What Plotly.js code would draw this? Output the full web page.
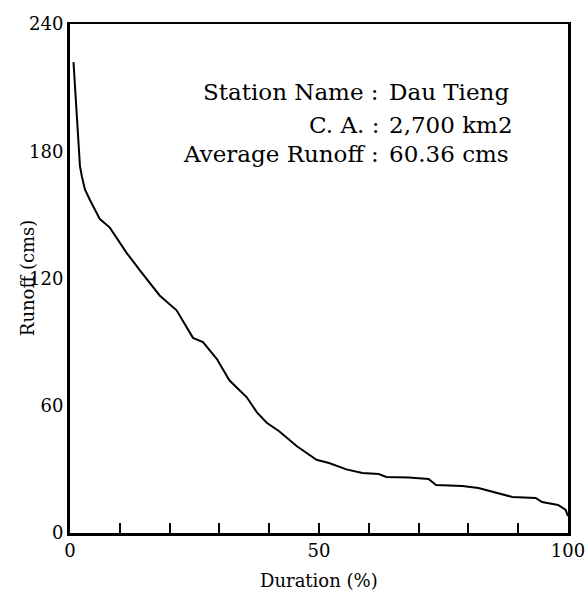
<!DOCTYPE html>
<html>
<head>
<meta charset="utf-8">
<script src="https://cdn.plot.ly/plotly-3.0.1.min.js"></script>
<style>html,body{margin:0;padding:0;background:#fff;}#chart{width:587px;height:596px;}</style>
</head>
<body>
<div id="chart"></div>
<script>
// Flow duration curve, Dau Tieng station
const duration = [0.7, 1.0, 1.4, 1.8, 2.0, 2.4, 3.0, 4.0, 6.0, 8.0, 10, 11.4, 14, 16, 18, 21.4, 23, 24.7, 26.7, 29.5, 32, 35.5, 37.5, 39.5, 42, 45.5, 49.5, 52, 55.5, 58.7, 62, 63.5, 68, 72, 73.5, 78.8, 82, 85.5, 88.8, 93.5, 94.8, 98, 99.5, 100];
const runoff   = [222, 210, 196, 180, 173, 168, 162, 157, 148, 144, 137, 132, 124, 118, 112, 105, 99, 92, 90, 82, 72, 64, 57, 52, 48, 41, 34.5, 33, 30, 28.3, 27.8, 26.4, 26.2, 25.5, 22.6, 22.2, 21.2, 18.9, 17, 16.5, 14.6, 13.2, 11, 8];
const yTicks = [0, 60, 120, 180, 240];
const xTicks = [0, 50, 100];
const infoLabels = ["Station Name :", "C. A. :", "Average Runoff :"];
const infoValues = ["Dau Tieng", "2,700 km2", "60.36 cms"];
const xTitle = "Duration (%)";
const yTitle = "Runoff (cms)";

const FONT = "DejaVu Serif, Liberation Serif, serif";
const infoY = [0.866, 0.802, 0.744];
const annotations = [];
infoLabels.forEach((t, i) => {
  annotations.push({xref:'paper', yref:'paper', x:0.624, y:infoY[i], xanchor:'right', yanchor:'middle',
    text:t, showarrow:false, font:{family:FONT, size:23, color:'#000'}});
  annotations.push({xref:'paper', yref:'paper', x:0.636, y:infoY[i], xanchor:'left', yanchor:'middle',
    text:infoValues[i], showarrow:false, font:{family:FONT, size:23, color:'#000'}});
});
annotations.push({xref:'paper', yref:'paper', x:0.5, y:-0.094, xanchor:'center', yanchor:'middle',
  text:xTitle, showarrow:false, font:{family:FONT, size:18, color:'#000'}});
annotations.push({xref:'paper', yref:'paper', x:-0.084, y:0.501, xanchor:'center', yanchor:'middle',
  text:yTitle, textangle:-90, showarrow:false, font:{family:FONT, size:18, color:'#000'}});

const trace = {x: duration, y: runoff, type:'scatter', mode:'lines',
  line:{color:'#000', width:2}, hoverinfo:'skip'};

const layout = {
  width:587, height:596,
  margin:{l:70, r:19, t:24, b:63},
  paper_bgcolor:'#fff', plot_bgcolor:'#fff',
  showlegend:false,
  font:{family:FONT, color:'#000'},
  xaxis:{range:[0,100], tickvals:xTicks, ticktext:xTicks.map(String),
    ticks:'inside', ticklen:10, tickwidth:2, tickcolor:'#000',
    minor:{dtick:10, tick0:0, ticks:'inside', ticklen:10, tickwidth:2, tickcolor:'#000'},
    showline:true, linecolor:'#000', linewidth:2.5, mirror:true,
    showgrid:false, zeroline:false, tickfont:{family:FONT, size:18, color:'#000'}},
  yaxis:{range:[0,240], tickvals:yTicks, ticktext:yTicks.map(String),
    ticks:'', showline:true, linecolor:'#000', linewidth:3, mirror:true,
    showgrid:false, zeroline:false, tickfont:{family:FONT, size:18, color:'#000'}},
  annotations: annotations
};
Plotly.newPlot('chart', [trace], layout, {staticPlot:true, displayModeBar:false});
</script>
</body>
</html>
